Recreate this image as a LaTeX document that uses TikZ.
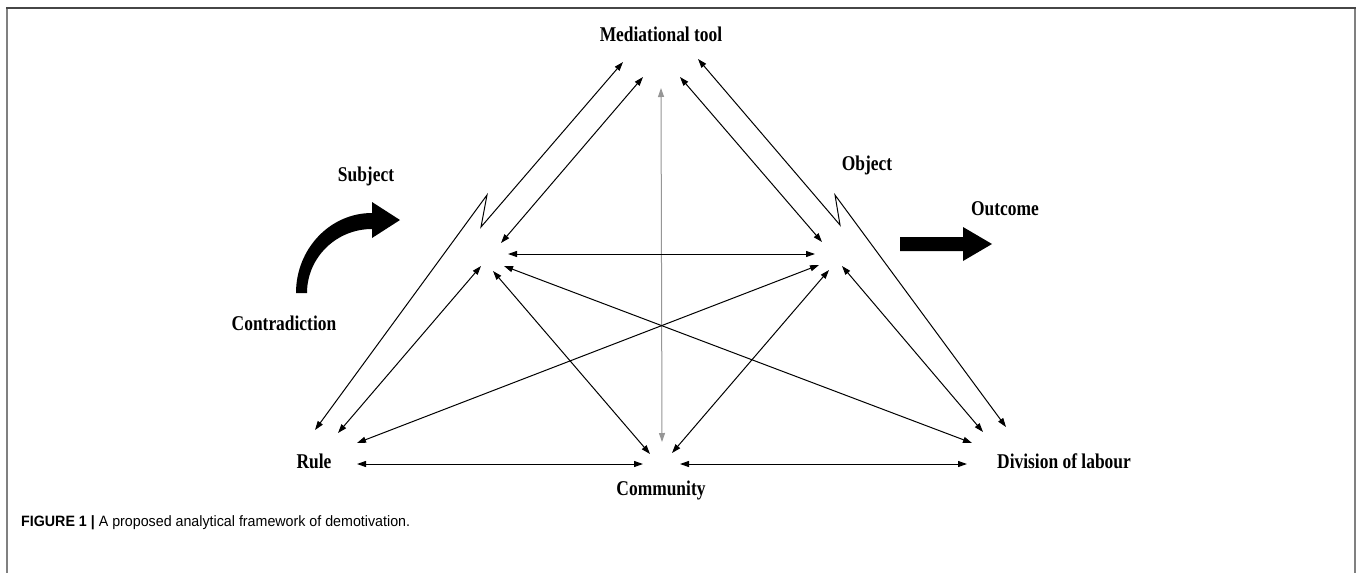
\documentclass[tikz,border=0pt]{standalone}
\usepackage{fontspec}
\newfontfamily\lblfont[FakeStretch=0.83]{Liberation Serif}
\newfontfamily\capfont[FakeStretch=0.95]{Liberation Sans}
\usetikzlibrary{arrows.meta}
\definecolor{framegray}{RGB}{128,128,128}
\definecolor{topgray}{RGB}{70,70,70}
\definecolor{vgray}{RGB}{150,150,150}
\tikzset{
  lbl/.style={font=\lblfont\bfseries\fontsize{21}{25}\selectfont, inner sep=0pt, anchor=base},
  link/.style={line width=1pt, {Triangle[length=9pt,width=6pt]}-{Triangle[length=9pt,width=6pt]}},
}
\begin{document}
\begin{tikzpicture}[x=1pt,y=-1pt]
\useasboundingbox (0,0) rectangle (1358,573);
\fill[white] (0,0) rectangle (1358,573);
% frame
\draw[framegray, line width=2pt] (7,573) -- (7,8);
\draw[framegray, line width=2pt] (1355,8) -- (1355,573);
\draw[topgray, line width=2pt] (6,8) -- (1356,8);

% labels
\node[lbl] (mt) at (661,41) {Mediational tool};
\node[lbl] (subj) at (366,181) {Subject};
\node[lbl] (obj) at (867,170) {Object};
\node[lbl] (out) at (1005,215) {Outcome};
\node[lbl] (contr) at (284,330) {Contradiction};
\node[lbl] (rule) at (314,468) {Rule};
\node[lbl] (comm) at (661,495) {Community};
\node[lbl, anchor=base west] (div) at (997,468) {Division of labour};
\node[font=\capfont\fontsize{15}{18}\selectfont, inner sep=0pt, anchor=base west] (cap) at (21,526) {\textbf{FIGURE 1 |} A proposed analytical framework of demotivation.};

% endpoint coordinates
\coordinate (mtA) at (623,62);
\coordinate (mtB) at (643,77);
\coordinate (mtC) at (661,88);
\coordinate (mtD) at (680,77);
\coordinate (mtE) at (698,59);
\coordinate (zl1) at (487,195);
\coordinate (zl2) at (481,227);
\coordinate (zr1) at (840,225);
\coordinate (zr2) at (835,195);
\coordinate (sA) at (501,243);
\coordinate (sB) at (508,254);
\coordinate (sC) at (481,266);
\coordinate (sD) at (493,271);
\coordinate (sE) at (504,266);
\coordinate (oA) at (822,242);
\coordinate (oB) at (815,254);
\coordinate (oC) at (819,265);
\coordinate (oD) at (829,270);
\coordinate (oE) at (842,266);
\coordinate (rA) at (315,430);
\coordinate (rB) at (338,433);
\coordinate (rC) at (357,443);
\coordinate (rD) at (357,464);
\coordinate (cA) at (643,464);
\coordinate (cB) at (650,454);
\coordinate (cC) at (662,442);
\coordinate (cD) at (672,453);
\coordinate (cE) at (680,464);
\coordinate (dA) at (1006,427);
\coordinate (dB) at (983,432);
\coordinate (dC) at (972,443);
\coordinate (dD) at (967,464);

% connectors
\draw[link] (rA) -- (zl1) -- (zl2) -- (mtA);
\draw[link] (sA) -- (mtB);
\draw[link, vgray] (mtC) -- (cC);
\draw[link] (mtD) -- (oA);
\draw[link] (mtE) -- (zr1) -- (zr2) -- (dA);
\draw[link] (sB) -- (oB);
\draw[link] (sC) -- (rB);
\draw[link] (sD) -- (cB);
\draw[link] (sE) -- (dC);
\draw[link] (oC) -- (rC);
\draw[link] (oD) -- (cD);
\draw[link] (oE) -- (dB);
\draw[link] (rD) -- (cA);
\draw[link] (cE) -- (dD);

% contradiction curved arrow (tapered shaft + head)
\fill (296,293) arc[start angle=180, end angle=270, x radius=76, y radius=80]
  -- (372,202) -- (400,220) -- (372,238) -- (372,229)
  arc[start angle=270, end angle=180, x radius=65, y radius=64] -- cycle;

% outcome arrow
\fill (900,237) -- (963,237) -- (963,227) -- (992,244) -- (963,261) -- (963,251) -- (900,251) -- cycle;
\end{tikzpicture}
\end{document}
